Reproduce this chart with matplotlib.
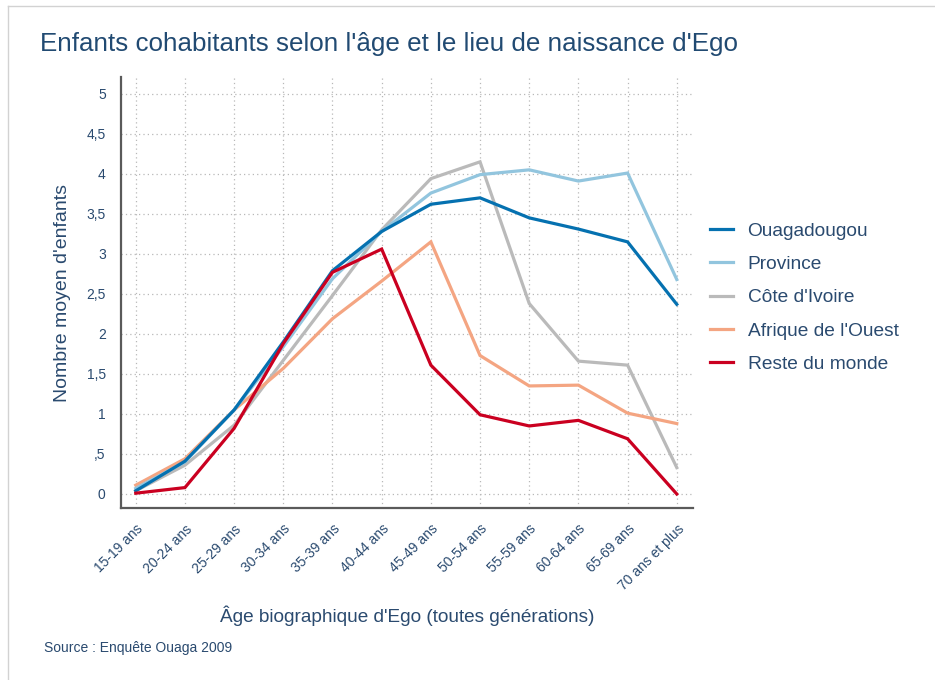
import matplotlib
matplotlib.use("Agg")
import matplotlib.pyplot as plt
from matplotlib.lines import Line2D

categories = ["15-19 ans", "20-24 ans", "25-29 ans", "30-34 ans", "35-39 ans",
              "40-44 ans", "45-49 ans", "50-54 ans", "55-59 ans", "60-64 ans",
              "65-69 ans", "70 ans et plus"]

ouagadougou = [0.04, 0.41, 1.05, 1.90, 2.79, 3.28, 3.62, 3.70, 3.45, 3.31, 3.15, 2.37]
province = [0.07, 0.40, 1.05, 1.84, 2.69, 3.28, 3.76, 3.99, 4.05, 3.91, 4.01, 2.68]
cote_ivoire = [0.04, 0.36, 0.86, 1.67, 2.48, 3.30, 3.94, 4.15, 2.38, 1.66, 1.61, 0.33]
afrique_ouest = [0.11, 0.44, 1.05, 1.57, 2.19, 2.66, 3.15, 1.73, 1.35, 1.36, 1.01, 0.88]
reste_monde = [0.01, 0.08, 0.82, 1.88, 2.77, 3.06, 1.61, 0.99, 0.85, 0.92, 0.69, 0.0]

series_names = ["Ouagadougou", "Province", "Côte d'Ivoire", "Afrique de l'Ouest", "Reste du monde"]
series_values = [ouagadougou, province, cote_ivoire, afrique_ouest, reste_monde]
series_colors = ["#0571b0", "#92c5de", "#bababa", "#f4a582", "#ca0020"]

yticks = [0, 0.5, 1, 1.5, 2, 2.5, 3, 3.5, 4, 4.5, 5]
ytick_labels = ["0", ",5", "1", "1,5", "2", "2,5", "3", "3,5", "4", "4,5", "5"]

TXT = "#2a4a6f"
plt.rcParams['font.family'] = ['Liberation Sans', 'DejaVu Sans']

fig = plt.figure(figsize=(9.35, 6.8), dpi=100)
ax = fig.add_axes([121/935, 1-508/680, (693-121)/935, (508-77)/680])

x = list(range(len(categories)))
order = [2, 3, 1, 0, 4]
for i in order:
    ax.plot(x, series_values[i], color=series_colors[i], lw=2.3, solid_joinstyle='miter', zorder=3)

ax.set_xlim(-0.3, 11.33)
ax.set_ylim(-0.175, 5.21)
ax.set_xticks(x)
ax.set_xticklabels(categories, rotation=45, ha='right', rotation_mode='anchor', fontsize=10, color=TXT)
ax.set_yticks(yticks)
ax.set_yticklabels(ytick_labels, fontsize=10, color=TXT)
ax.tick_params(axis='both', length=0)
ax.tick_params(axis='y', pad=11)
ax.tick_params(axis='x', pad=10)

ax.grid(True, linestyle=(0, (1, 2.5)), color="#b8b8b8", lw=0.9, zorder=0)
for s in ['top', 'right']:
    ax.spines[s].set_visible(False)
for s in ['left', 'bottom']:
    ax.spines[s].set_color("#5a5a5a")
    ax.spines[s].set_linewidth(1.6)

ax.set_ylabel("Nombre moyen d'enfants", fontsize=14, color=TXT)
ax.set_xlabel("Âge biographique d'Ego (toutes générations)", fontsize=13.7, color=TXT)
ax.xaxis.set_label_coords(0.5, (508-605)/431, transform=ax.transAxes)
ax.yaxis.set_label_coords((71-121)/572, 0.5, transform=ax.transAxes)

fig.text(40/935, 1-44/680, "Enfants cohabitants selon l'âge et le lieu de naissance d'Ego",
         fontsize=18.7, color="#214a72", va='center', ha='left')
fig.text(44/935, 1-648/680, "Source : Enquête Ouaga 2009", fontsize=10, color=TXT, va='center', ha='left')

handles = [Line2D([0], [0], color=c, lw=2.3) for c in series_colors]
leg = fig.legend(handles, series_names, loc='center left', bbox_to_anchor=(702/935, 1-297.5/680),
                 frameon=False, fontsize=13.8, handlelength=1.2, handletextpad=0.78,
                 labelspacing=0.83, labelcolor=TXT, borderaxespad=0)

# card border
fig.add_artist(Line2D([8/935, 1], [1-6/680, 1-6/680], transform=fig.transFigure, color="#d2d2d2", lw=1))
fig.add_artist(Line2D([8/935, 8/935], [0, 1-6/680], transform=fig.transFigure, color="#d2d2d2", lw=1))

fig.savefig("out.png", dpi=100)
